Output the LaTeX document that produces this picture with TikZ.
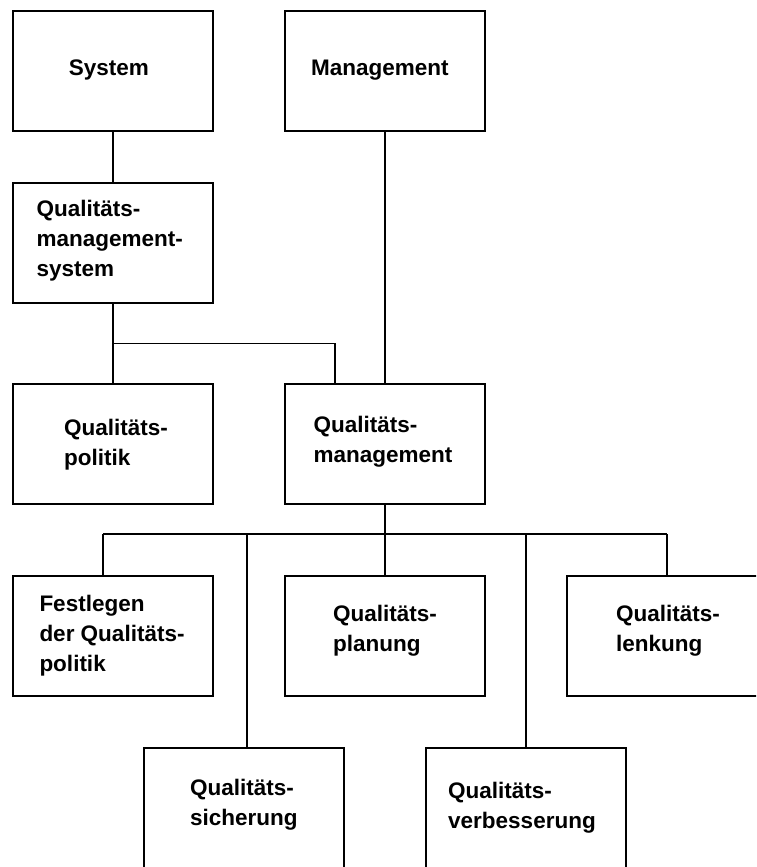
\documentclass[tikz,border=0pt]{standalone}
\usepackage{fontspec}
\setmainfont{Liberation Sans}
\begin{document}
\begin{tikzpicture}[x=1pt,y=-1pt,
  box/.style={draw=black, line width=1.8pt, rectangle, minimum width=200pt, minimum height=120pt, inner sep=0pt, fill=white},
  lbl/.style={anchor=base west, inner sep=0pt, align=left, font=\bfseries\fontsize{22.5}{30}\selectfont},
  conn/.style={draw=black, line width=1.5pt}]
\useasboundingbox (0,0) rectangle (756,867);
\clip (0,0) rectangle (756,867);
% boxes
\node[box] (sys)  at (113,71) {};
\node[box] (mgmt) at (385,71) {};
\node[box] (qms)  at (113,243) {};
\node[box] (qp)   at (113,444) {};
\node[box] (qm)   at (385,444) {};
\node[box] (fest) at (113,636) {};
\node[box] (plan) at (385,636) {};
\node[box] (lenk) at (667,636) {};
\node[box] (sich) at (244,808) {};
\node[box] (verb) at (526,808) {};
% texts (base = baseline of last line)
\node[lbl] (tsys)  at (68.7,75.3) {System};
\node[lbl] (tmgmt) at (311,75.3) {Management};
\node[lbl] (tqms)  at (36.4,276) {Qualitäts-\\management-\\system};
\node[lbl] (tqp)   at (64,465) {Qualitäts-\\politik};
\node[lbl] (tqm)   at (313.4,462.7) {Qualitäts-\\management};
\node[lbl] (tfest) at (39.3,671.7) {Festlegen\\der Qualitäts-\\politik};
\node[lbl] (tplan) at (333,651.7) {Qualitäts-\\planung};
\node[lbl] (tlenk) at (615.8,651) {Qualitäts-\\lenkung};
\node[lbl] (tsich) at (189.8,825.7) {Qualitäts-\\sicherung};
\node[lbl] (tverb) at (448,828.4) {Qualitäts-\\verbesserung};
% junction coordinates
\coordinate (j1) at (113,343.5);
\coordinate (j1r) at (335,343.5);
\coordinate (busL) at (103,534);
\coordinate (busR) at (667,534);
\coordinate (bS) at (247,534);
% connectors
\draw[conn] (sys.south) -- (qms.north);
\draw[conn] (mgmt.south) -- (qm.north);
\draw[conn] (qms.south) -- (qp.north);
\draw[conn] (j1) -- (j1r) -- (j1r |- qm.north);
\draw[conn] (qm.south) -- (qm.south |- busL);
\draw[conn] (busL) -- (busR);
\draw[conn] (busL) -- (busL |- fest.north);
\draw[conn] (bS) -- (bS |- sich.north);
\draw[conn] (plan.north |- busL) -- (plan.north);
\draw[conn] (verb.north |- busL) -- (verb.north);
\draw[conn] (busR) -- (lenk.north);
\end{tikzpicture}
\end{document}
